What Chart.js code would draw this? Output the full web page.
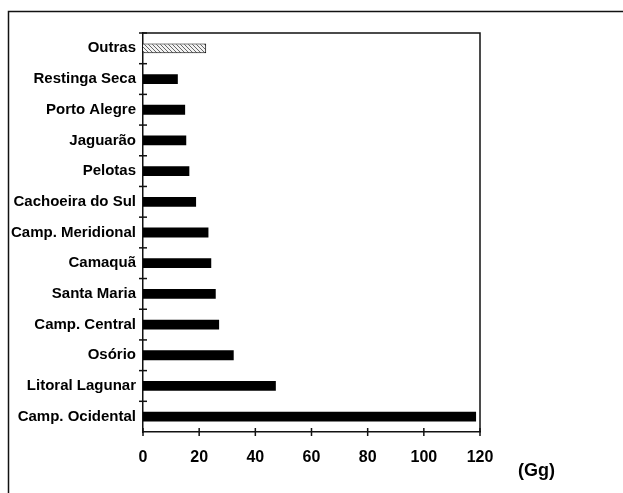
<!DOCTYPE html>
<html>
<head>
<meta charset="utf-8">
<script src="https://cdn.jsdelivr.net/npm/chart.js@4/dist/chart.umd.min.js"></script>
<style>
html,body{margin:0;padding:0;background:#fff;}
#wrap{position:relative;width:623px;height:493px;}
</style>
</head>
<body>
<div id="wrap"><canvas id="c" width="623" height="493"></canvas></div>
<script>
const categories = ["Outras","Restinga Seca","Porto Alegre","Jaguarão","Pelotas","Cachoeira do Sul","Camp. Meridional","Camaquã","Santa Maria","Camp. Central","Osório","Litoral Lagunar","Camp. Ocidental"];
const values = [22.5, 12.4, 15.0, 15.4, 16.5, 18.9, 23.3, 24.3, 25.9, 27.1, 32.3, 47.3, 118.6];
const xTicks = [0, 20, 40, 60, 80, 100, 120];
const unitLabel = "(Gg)";

function makePattern(){
  const p = document.createElement('canvas');
  p.width = 4; p.height = 4;
  const g = p.getContext('2d');
  g.fillStyle = '#f2f2f2'; g.fillRect(0,0,4,4);
  g.fillStyle = '#666';
  g.fillRect(0,0,1,1); g.fillRect(2,2,1,1); g.fillRect(1,1,1,1); g.fillRect(3,3,1,1);
  return document.getElementById('c').getContext('2d').createPattern(p,'repeat');
}
const pat = makePattern();
const fills = categories.map((c,i)=> i===0 ? pat : '#000');

const FONT = "'Liberation Sans', Arial, sans-serif";

const decor = {
  id:'decor',
  afterDraw(chart){
    const ctx = chart.ctx, a = chart.chartArea;
    const xs = chart.scales.x, ys = chart.scales.y;
    ctx.save();
    ctx.strokeStyle = '#111';
    // outer frame
    ctx.lineWidth = 1.5;
    ctx.beginPath();
    ctx.moveTo(8.5, 700); ctx.lineTo(8.5, 11.5); ctx.lineTo(700, 11.5);
    ctx.stroke();
    // plot box top/right
    ctx.lineWidth = 1.5;
    ctx.beginPath();
    ctx.moveTo(a.left, a.top); ctx.lineTo(a.right, a.top); ctx.lineTo(a.right, a.bottom);
    ctx.stroke();
    // x ticks crossing
    ctx.lineWidth = 1.5;
    xTicks.forEach(v=>{
      const x = xs.getPixelForValue(v);
      ctx.beginPath(); ctx.moveTo(x, a.bottom-4); ctx.lineTo(x, a.bottom+4); ctx.stroke();
    });
    // y ticks at category boundaries
    const n = categories.length;
    const step = (a.bottom - a.top)/n;
    for(let i=0;i<n;i++){
      const y = ys.getPixelForValue(i) - step/2;
      ctx.beginPath(); ctx.moveTo(a.left-4, y); ctx.lineTo(a.left+4, y); ctx.stroke();
    }
    // unit label
    ctx.fillStyle = '#000';
    ctx.font = "bold 18px " + FONT;
    ctx.textBaseline = 'middle';
    ctx.textAlign = 'left';
    ctx.fillText(unitLabel, 518, 471);
    ctx.restore();
  }
};

new Chart(document.getElementById('c'), {
  type:'bar',
  data:{
    labels: categories,
    datasets:[{
      data: values,
      backgroundColor: fills,
      borderColor: '#000',
      borderWidth: categories.map((c,i)=> i===0 ? 1 : 0),
      barPercentage: 0.32,
      categoryPercentage: 1.0
    }]
  },
  options:{
    indexAxis:'y',
    responsive:false,
    animation:false,
    events:[],
    layout:{padding:{left:0, top:33, right:143, bottom:0}},
    plugins:{legend:{display:false}, tooltip:{enabled:false}},
    scales:{
      x:{
        type:'linear', min:0, max:120,
        afterBuildTicks(s){ s.ticks = xTicks.map(v=>({value:v})); },
        afterFit(s){ s.height = 61; },
        grid:{display:false, drawTicks:false, tickLength:0},
        border:{display:true, color:'#111', width:1.5},
        ticks:{color:'#000', padding:16, font:{family:FONT, size:16, weight:'bold'}, maxRotation:0}
      },
      y:{
        afterFit(s){ s.width = 143; },
        grid:{display:false, drawTicks:false, tickLength:0},
        border:{display:true, color:'#111', width:1.5},
        ticks:{color:'#000', padding:7, font:{family:FONT, size:15, weight:'bold'}, autoSkip:false}
      }
    }
  },
  plugins:[decor]
});
</script>
</body>
</html>
